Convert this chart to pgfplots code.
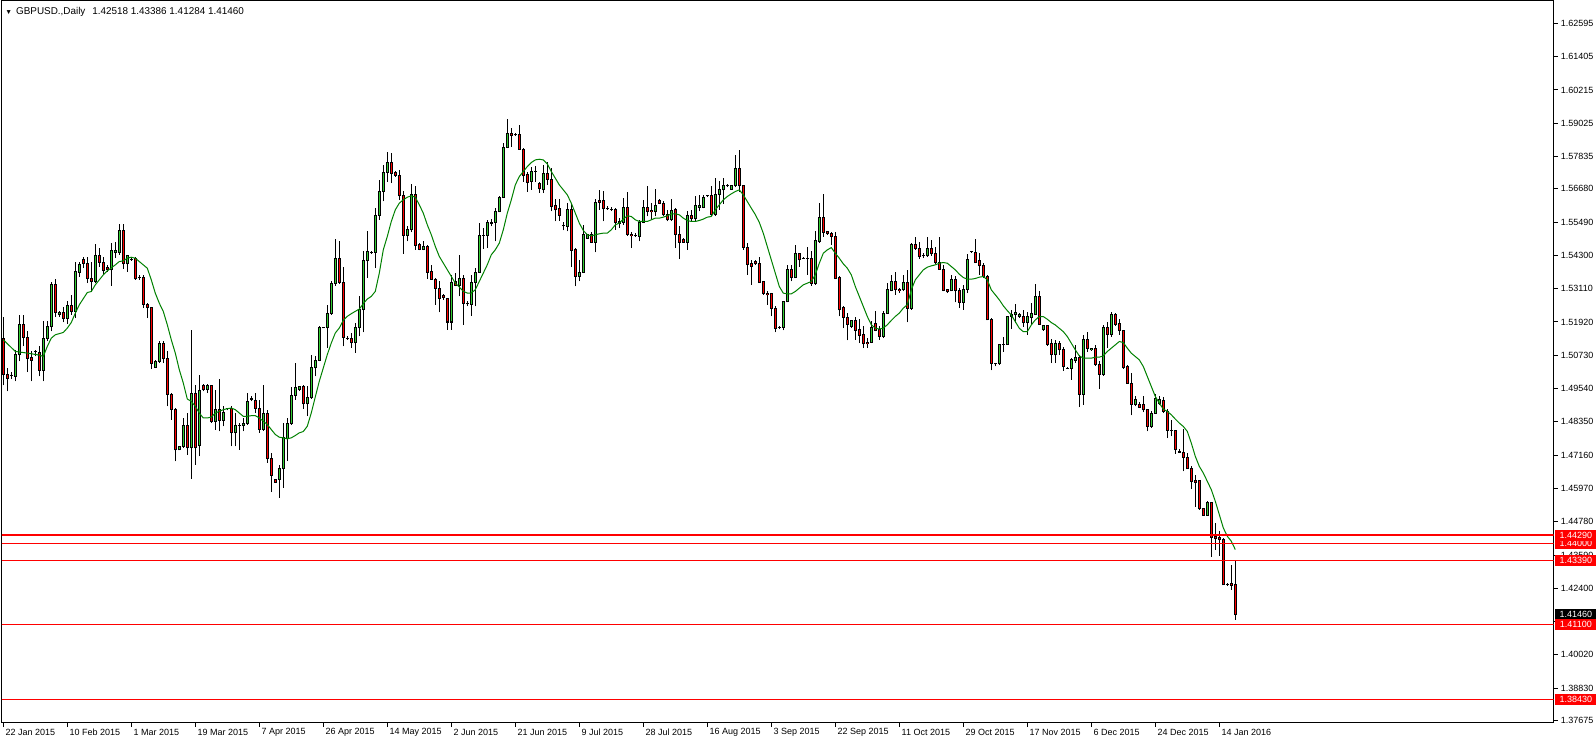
\documentclass[border=0pt]{standalone}
\usepackage{pgfplots}
\usepackage{pgfplotstable}
\pgfplotsset{compat=1.18}
\usepackage{fontspec}
\setmainfont{Liberation Sans}
\definecolor{bull}{RGB}{50,205,50}
\definecolor{bear}{RGB}{255,0,0}
\definecolor{maline}{RGB}{0,128,0}
\newcommand\lbl{\fontsize{4.5}{5}\selectfont}
\pgfplotstableread{
k o h l c
0 1.51344 1.52093 1.49654 1.50035
1 1.50035 1.50273 1.49440 1.49916
2 1.49999 1.50118 1.49880 1.50011
3 1.49975 1.50927 1.49797 1.50749
4 1.50749 1.52177 1.50511 1.51820
5 1.51820 1.52177 1.51046 1.51379
6 1.51379 1.51582 1.50130 1.50630
7 1.50641 1.50868 1.49797 1.50546
8 1.50860 1.50927 1.50689 1.50875
9 1.50832 1.51046 1.49975 1.50189
10 1.50189 1.51939 1.49797 1.51344
11 1.51344 1.51939 1.51225 1.51748
12 1.51748 1.53367 1.51582 1.53248
13 1.53248 1.53462 1.52093 1.52260
14 1.52200 1.52319 1.52093 1.52260
15 1.52272 1.52474 1.51903 1.52058
16 1.52058 1.52653 1.51855 1.52498
17 1.52498 1.52891 1.52177 1.52296
18 1.52296 1.54081 1.52058 1.53712
19 1.53688 1.54081 1.53545 1.53962
20 1.54164 1.54235 1.53843 1.54021
21 1.54021 1.54235 1.53307 1.53474
22 1.53486 1.54081 1.53010 1.53367
23 1.53367 1.54699 1.53307 1.54283
24 1.54283 1.54580 1.53902 1.54057
25 1.54057 1.54259 1.53605 1.53759
26 1.53878 1.53962 1.53724 1.53783
27 1.53783 1.54735 1.53224 1.54461
28 1.54414 1.54795 1.54200 1.54473
29 1.54414 1.55413 1.54319 1.55175
30 1.55175 1.55413 1.53819 1.53997
31 1.53997 1.54283 1.53724 1.54283
32 1.54170 1.54200 1.54104 1.54158
33 1.54176 1.54235 1.53426 1.53462
34 1.53509 1.53605 1.53426 1.53500
35 1.53521 1.53605 1.52415 1.52557
36 1.52557 1.52617 1.52058 1.52438
37 1.52450 1.52450 1.50237 1.50451
38 1.50296 1.50570 1.50273 1.50522
39 1.50522 1.51225 1.50451 1.51141
40 1.51141 1.51225 1.50451 1.50606
41 1.50606 1.50868 1.48904 1.49344
42 1.49344 1.49380 1.48428 1.48809
43 1.48809 1.48845 1.46941 1.47345
44 1.47345 1.47476 1.47333 1.47476
45 1.47476 1.48488 1.47417 1.48214
46 1.48214 1.48666 1.47179 1.47417
47 1.47417 1.51641 1.46310 1.49356
48 1.49356 1.49678 1.46822 1.47417
49 1.47500 1.50035 1.47119 1.49487
50 1.49666 1.49701 1.49440 1.49499
51 1.49499 1.49701 1.49380 1.49654
52 1.49642 1.49642 1.48309 1.48369
53 1.48369 1.49499 1.48071 1.48785
54 1.48785 1.49892 1.48012 1.48404
55 1.48404 1.48904 1.48190 1.48690
56 1.48820 1.48856 1.48761 1.48828
57 1.48845 1.48904 1.47476 1.47952
58 1.47952 1.48666 1.47476 1.48214
59 1.48226 1.48309 1.47357 1.48230
60 1.48214 1.48488 1.48012 1.48285
61 1.48285 1.49380 1.48250 1.49071
62 1.49166 1.49261 1.49083 1.49172
63 1.49130 1.49380 1.48666 1.48845
64 1.48845 1.49147 1.47952 1.48090
65 1.48090 1.49683 1.48017 1.48647
66 1.48647 1.48790 1.46886 1.47029
67 1.47029 1.47243 1.45839 1.46446
68 1.46291 1.46315 1.46172 1.46196
69 1.46291 1.46791 1.45637 1.46672
70 1.46672 1.48314 1.45994 1.47779
71 1.47743 1.48493 1.46946 1.48290
72 1.48290 1.49599 1.48255 1.49290
73 1.49290 1.50456 1.49147 1.49587
74 1.49504 1.49647 1.49445 1.49623
75 1.49599 1.49683 1.48814 1.48992
76 1.48992 1.49647 1.48552 1.49207
77 1.49207 1.50754 1.49171 1.50278
78 1.50278 1.50694 1.49980 1.50551
79 1.50551 1.51789 1.50516 1.51741
80 1.51710 1.51735 1.51690 1.51716
81 1.51706 1.52539 1.50992 1.52241
82 1.52241 1.53372 1.52182 1.53312
83 1.53312 1.54883 1.53217 1.54205
84 1.54205 1.54800 1.53288 1.53336
85 1.53336 1.53883 1.51051 1.51372
86 1.51340 1.51432 1.51289 1.51335
87 1.51313 1.51527 1.50992 1.51170
88 1.51170 1.51884 1.50813 1.51706
89 1.51706 1.52836 1.51408 1.52360
90 1.52360 1.54443 1.51551 1.54109
91 1.54109 1.55157 1.53491 1.54443
92 1.54400 1.54443 1.54359 1.54410
93 1.54407 1.55990 1.53848 1.55740
94 1.55740 1.57001 1.55573 1.56585
95 1.56585 1.57537 1.56228 1.57275
96 1.57275 1.58013 1.56942 1.57632
97 1.57632 1.57977 1.56882 1.57239
98 1.57263 1.57322 1.57120 1.57168
99 1.57168 1.57358 1.56287 1.56430
100 1.56454 1.56620 1.54359 1.55026
101 1.55026 1.55359 1.54800 1.55216
102 1.55216 1.56858 1.55121 1.56489
103 1.56489 1.56787 1.54502 1.54669
104 1.54681 1.54740 1.54478 1.54526
105 1.54526 1.54800 1.54478 1.54621
106 1.54609 1.54681 1.53455 1.53693
107 1.53740 1.53955 1.53431 1.53455
108 1.53455 1.53491 1.52539 1.53110
109 1.53110 1.53372 1.52265 1.52765
110 1.52884 1.52919 1.52717 1.52800
111 1.52777 1.52777 1.51646 1.51920
112 1.51920 1.53610 1.51646 1.53348
113 1.53372 1.53669 1.53193 1.53229
114 1.53229 1.54324 1.52836 1.53491
115 1.53491 1.53610 1.51825 1.52598
116 1.52580 1.52658 1.52479 1.52570
117 1.52562 1.53610 1.52146 1.53348
118 1.53348 1.53848 1.52479 1.53705
119 1.53705 1.55454 1.53669 1.55026
120 1.55020 1.55276 1.54526 1.55030
121 1.55026 1.55549 1.54562 1.55478
122 1.55460 1.55597 1.55335 1.55450
123 1.55478 1.55990 1.54800 1.55859
124 1.55859 1.56430 1.55835 1.56382
125 1.56382 1.58310 1.56347 1.58167
126 1.58167 1.59167 1.58132 1.58667
127 1.58667 1.58846 1.58191 1.58584
128 1.58625 1.58667 1.58572 1.58615
129 1.58608 1.58965 1.58072 1.58096
130 1.58096 1.58132 1.56942 1.57144
131 1.57180 1.57299 1.56585 1.56906
132 1.56942 1.57477 1.56644 1.57299
133 1.57305 1.57501 1.56942 1.57315
134 1.56858 1.56942 1.56549 1.56680
135 1.56644 1.57537 1.56525 1.57215
136 1.57215 1.57632 1.56823 1.57025
137 1.57025 1.57418 1.55871 1.56049
138 1.56073 1.56311 1.55514 1.55930
139 1.55966 1.56311 1.55537 1.55728
140 1.55365 1.55478 1.55192 1.55360
141 1.55335 1.56168 1.55157 1.55930
142 1.55930 1.56168 1.53883 1.54478
143 1.54502 1.54562 1.53193 1.53550
144 1.53550 1.54145 1.53372 1.53705
145 1.53705 1.55395 1.53669 1.55038
146 1.54919 1.55073 1.54883 1.55061
147 1.55061 1.55121 1.54740 1.54776
148 1.54776 1.56311 1.54407 1.56204
149 1.56251 1.56644 1.55930 1.56204
150 1.56251 1.56608 1.55514 1.55966
151 1.55970 1.56073 1.55930 1.55960
152 1.55955 1.56025 1.55871 1.55950
153 1.55930 1.55990 1.55216 1.55490
154 1.55502 1.55633 1.55276 1.55454
155 1.55490 1.56347 1.55395 1.56025
156 1.56025 1.56585 1.55002 1.55061
157 1.55061 1.55121 1.54562 1.55002
158 1.55030 1.55100 1.54950 1.55000
159 1.54978 1.55573 1.54800 1.55490
160 1.55490 1.56287 1.55454 1.56025
161 1.56025 1.56787 1.55692 1.55871
162 1.55906 1.56192 1.55573 1.55859
163 1.55859 1.56668 1.55692 1.56073
164 1.56251 1.56311 1.56132 1.56168
165 1.56168 1.56263 1.55692 1.55752
166 1.55752 1.55930 1.55514 1.55573
167 1.55573 1.56311 1.55514 1.55894
168 1.55930 1.55990 1.54562 1.55061
169 1.55061 1.55359 1.54169 1.54776
170 1.54859 1.54907 1.54764 1.54776
171 1.54776 1.55871 1.54502 1.55740
172 1.55740 1.55930 1.55514 1.55609
173 1.55609 1.56430 1.55514 1.56073
174 1.56025 1.56466 1.55871 1.56073
175 1.56025 1.56466 1.55978 1.56382
176 1.56430 1.56466 1.56382 1.56425
177 1.56430 1.56787 1.55716 1.55752
178 1.55752 1.57061 1.55716 1.56489
179 1.56489 1.56965 1.55930 1.56668
180 1.56644 1.57061 1.56144 1.56787
181 1.56790 1.56858 1.56739 1.56785
182 1.56668 1.56823 1.56644 1.56787
183 1.56787 1.57894 1.56739 1.57418
184 1.57418 1.58072 1.56585 1.56787
185 1.56787 1.56823 1.54502 1.54597
186 1.54597 1.54740 1.53610 1.53967
187 1.53998 1.54141 1.53249 1.53903
188 1.54070 1.54141 1.53951 1.53998
189 1.53998 1.54260 1.53308 1.53332
190 1.53356 1.53368 1.52892 1.52951
191 1.52951 1.53011 1.52535 1.52892
192 1.52927 1.52951 1.52118 1.52416
193 1.52416 1.52475 1.51547 1.51702
194 1.51735 1.51785 1.51666 1.51730
195 1.51737 1.52654 1.51618 1.52642
196 1.52642 1.53963 1.52618 1.53808
197 1.53808 1.53963 1.53368 1.53510
198 1.53510 1.54677 1.53487 1.54355
199 1.54355 1.54403 1.53903 1.54141
200 1.54205 1.54236 1.54165 1.54200
201 1.54190 1.54617 1.53606 1.54185
202 1.54177 1.54474 1.53213 1.53308
203 1.53308 1.55188 1.53249 1.54819
204 1.54796 1.56188 1.54760 1.55664
205 1.55664 1.56497 1.54974 1.55129
206 1.55153 1.55188 1.55034 1.55069
207 1.55069 1.55153 1.54677 1.54974
208 1.54974 1.55153 1.53451 1.53475
209 1.53498 1.53570 1.52118 1.52356
210 1.52439 1.52475 1.51702 1.52082
211 1.52082 1.52237 1.51261 1.51844
212 1.51761 1.51999 1.51702 1.51963
213 1.51963 1.52094 1.51285 1.51618
214 1.51642 1.52023 1.51166 1.51452
215 1.51464 1.51761 1.50988 1.51142
216 1.51202 1.51345 1.50988 1.51142
217 1.51190 1.51940 1.51166 1.51725
218 1.51880 1.52297 1.51583 1.51618
219 1.51642 1.51761 1.51285 1.51404
220 1.51404 1.52297 1.51345 1.52237
221 1.52237 1.53308 1.52213 1.53070
222 1.53046 1.53606 1.53011 1.53379
223 1.53379 1.53725 1.52892 1.53070
224 1.53094 1.53130 1.52951 1.53034
225 1.53070 1.53606 1.53011 1.53344
226 1.53344 1.53784 1.51904 1.52416
227 1.52416 1.54736 1.52356 1.54700
228 1.54700 1.54974 1.54498 1.54558
229 1.54558 1.54796 1.54165 1.54260
230 1.54290 1.54403 1.54200 1.54280
231 1.54284 1.54974 1.54236 1.54534
232 1.54534 1.54855 1.54284 1.54355
233 1.54355 1.54617 1.53998 1.54058
234 1.54058 1.54950 1.53784 1.53808
235 1.53808 1.53963 1.53011 1.53046
236 1.53070 1.53106 1.52951 1.52999
237 1.53034 1.53606 1.53011 1.53427
238 1.53427 1.53570 1.52618 1.53034
239 1.53034 1.53130 1.52416 1.52618
240 1.52618 1.53249 1.52356 1.53094
241 1.53094 1.54355 1.52951 1.54165
242 1.54440 1.54474 1.54403 1.54435
243 1.54415 1.54879 1.54022 1.54046
244 1.54105 1.54403 1.53606 1.53927
245 1.53927 1.54022 1.53487 1.53546
246 1.53546 1.53606 1.51975 1.51999
247 1.52023 1.52059 1.50190 1.50452
248 1.50435 1.50452 1.50333 1.50425
249 1.50428 1.51142 1.50393 1.51107
250 1.51110 1.51400 1.50865 1.51126
251 1.51126 1.52138 1.51103 1.52114
252 1.52114 1.52352 1.51662 1.52197
253 1.52174 1.52554 1.51876 1.52257
254 1.52114 1.52257 1.52055 1.52197
255 1.52114 1.52352 1.51757 1.51900
256 1.51900 1.52293 1.51460 1.52114
257 1.52090 1.52590 1.51817 1.52233
258 1.52197 1.53280 1.52174 1.52828
259 1.52828 1.53042 1.51817 1.51840
260 1.51638 1.51781 1.51614 1.51781
261 1.51781 1.51817 1.51067 1.51126
262 1.51138 1.51305 1.50448 1.50746
263 1.50746 1.51281 1.50448 1.51162
264 1.51162 1.51257 1.50746 1.50924
265 1.50924 1.51019 1.50186 1.50329
266 1.50275 1.50305 1.50234 1.50270
267 1.50270 1.50627 1.49853 1.50567
268 1.50543 1.51103 1.50448 1.50662
269 1.50662 1.50746 1.48877 1.49341
270 1.49341 1.51460 1.48961 1.51281
271 1.51281 1.51579 1.50865 1.50984
272 1.50924 1.51008 1.50900 1.50984
273 1.50984 1.51103 1.50353 1.50412
274 1.50412 1.50508 1.49520 1.50055
275 1.50055 1.51817 1.49996 1.51733
276 1.51733 1.51936 1.50984 1.51483
277 1.51483 1.52293 1.51400 1.52174
278 1.52174 1.52233 1.51781 1.51840
279 1.51876 1.52019 1.51460 1.51614
280 1.51614 1.51638 1.50234 1.50293
281 1.50329 1.50389 1.49710 1.49734
282 1.49734 1.50091 1.48580 1.48984
283 1.48984 1.49282 1.48901 1.49139
284 1.48984 1.49043 1.48830 1.48877
285 1.48984 1.49258 1.48687 1.48782
286 1.48782 1.48806 1.48009 1.48187
287 1.48187 1.48723 1.48127 1.48663
288 1.48663 1.49353 1.48639 1.49199
289 1.48996 1.49258 1.48961 1.49139
290 1.49103 1.49234 1.48663 1.48723
291 1.48723 1.48806 1.47771 1.48044
292 1.48050 1.48401 1.47830 1.48040
293 1.48032 1.48068 1.47211 1.47354
294 1.47294 1.47378 1.47235 1.47259
295 1.47259 1.48092 1.46581 1.47080
296 1.47080 1.47235 1.46664 1.46676
297 1.46676 1.46759 1.45962 1.46224
298 1.46247 1.46462 1.45307 1.46200
299 1.46247 1.46259 1.45212 1.45236
300 1.45236 1.45236 1.44998 1.45010
301 1.45010 1.45510 1.44998 1.45450
302 1.45450 1.45474 1.43522 1.44224
303 1.44260 1.44736 1.43784 1.44165
304 1.44200 1.44439 1.43570 1.44141
305 1.44141 1.44200 1.42511 1.42523
306 1.42540 1.42594 1.42475 1.42530
307 1.42559 1.43249 1.42356 1.42511
308 1.42518 1.43386 1.41284 1.41460
}\ohlc
\pgfplotstableread{
k m
0 1.51284
3 1.50868
6 1.50808
9 1.50737
10 1.50689
11 1.51046
12 1.51344
13 1.51463
15 1.51546
16 1.51701
17 1.51903
18 1.52236
19 1.52534
21 1.52974
22 1.53010
23 1.53248
24 1.53426
25 1.53605
26 1.53747
28 1.53962
29 1.54081
30 1.54104
31 1.54200
32 1.54235
33 1.54200
34 1.54081
35 1.53962
36 1.53843
37 1.53426
38 1.52950
39 1.52593
40 1.52296
41 1.51820
42 1.51284
43 1.50808
44 1.50213
45 1.49737
46 1.49166
47 1.49083
48 1.48904
49 1.48666
50 1.48488
51 1.48488
52 1.48523
53 1.48666
54 1.48725
55 1.48785
56 1.48821
57 1.48845
58 1.48785
59 1.48666
60 1.48547
61 1.48547
62 1.48571
63 1.48571
64 1.48490
66 1.48255
67 1.48076
68 1.47898
69 1.47802
70 1.47779
71 1.47743
72 1.47779
73 1.47862
74 1.47957
75 1.48005
76 1.48195
77 1.48671
78 1.49242
79 1.49802
80 1.50278
81 1.50754
82 1.51170
83 1.51527
84 1.51706
85 1.51979
86 1.52122
87 1.52217
88 1.52301
89 1.52384
90 1.52574
91 1.52741
92 1.52836
93 1.53015
94 1.53669
95 1.54502
96 1.54978
97 1.55514
98 1.55930
99 1.56168
100 1.56287
101 1.56382
102 1.56430
103 1.56382
104 1.56109
105 1.55811
106 1.55395
107 1.55038
108 1.54621
109 1.54264
110 1.54026
111 1.53788
112 1.53550
113 1.53312
114 1.53169
115 1.53015
116 1.52955
117 1.52955
118 1.53074
119 1.53372
120 1.53669
121 1.53967
122 1.54324
123 1.54502
124 1.54740
125 1.55216
126 1.55811
127 1.56287
128 1.56822
129 1.57120
130 1.57299
131 1.57477
132 1.57620
133 1.57715
134 1.57739
135 1.57715
136 1.57572
137 1.57299
138 1.57061
139 1.56822
140 1.56644
141 1.56466
142 1.56168
143 1.55811
144 1.55454
145 1.55192
146 1.55038
147 1.55002
148 1.55038
149 1.55073
150 1.55097
151 1.55097
152 1.55216
153 1.55395
154 1.55454
155 1.55597
156 1.55716
157 1.55692
158 1.55573
159 1.55514
160 1.55514
161 1.55514
162 1.55573
163 1.55633
164 1.55633
165 1.55668
166 1.55716
167 1.55787
168 1.55787
169 1.55752
170 1.55633
171 1.55549
172 1.55514
173 1.55514
174 1.55549
175 1.55597
176 1.55668
177 1.55692
178 1.55930
179 1.56109
180 1.56287
181 1.56406
182 1.56501
183 1.56585
184 1.56644
185 1.56466
186 1.56228
187 1.55990
188 1.55760
189 1.55480
190 1.55092
191 1.54617
192 1.54141
193 1.53665
194 1.53189
195 1.52951
196 1.52927
197 1.52927
198 1.53011
199 1.53130
200 1.53249
201 1.53308
202 1.53368
203 1.53606
204 1.54022
205 1.54379
206 1.54498
207 1.54581
208 1.54379
209 1.54200
210 1.53999
211 1.53844
212 1.53606
213 1.53189
214 1.52832
215 1.52475
216 1.52118
217 1.51820
218 1.51702
219 1.51666
220 1.51702
221 1.51820
222 1.51975
223 1.52118
224 1.52237
225 1.52416
226 1.52535
227 1.53070
228 1.53427
229 1.53606
230 1.53784
231 1.53879
232 1.53927
233 1.53963
234 1.54022
235 1.54046
236 1.54022
237 1.53903
238 1.53784
239 1.53629
240 1.53510
241 1.53451
242 1.53451
243 1.53475
244 1.53522
245 1.53546
246 1.53427
247 1.53070
248 1.52892
249 1.52713
250 1.52499
251 1.52326
252 1.52171
253 1.51933
254 1.51695
255 1.51576
256 1.51576
257 1.51814
258 1.51995
259 1.52114
260 1.52114
261 1.52019
262 1.51900
263 1.51814
264 1.51695
265 1.51576
266 1.51400
267 1.51162
268 1.50924
269 1.50710
270 1.50627
271 1.50627
272 1.50627
273 1.50662
274 1.50662
275 1.50710
276 1.50865
277 1.50984
278 1.51103
279 1.51222
280 1.51186
281 1.50984
282 1.50805
283 1.50686
284 1.50567
285 1.50329
286 1.49972
287 1.49615
288 1.49258
289 1.49020
290 1.48806
291 1.48723
292 1.48604
293 1.48449
294 1.48306
295 1.48187
296 1.48009
297 1.47592
298 1.47116
299 1.46759
300 1.46521
301 1.46224
302 1.45926
303 1.45510
304 1.45034
305 1.44558
306 1.44260
307 1.44082
308 1.43784
}\matable
\begin{document}
\begin{tikzpicture}
\useasboundingbox (0,0) rectangle (798pt,372pt);
\begin{axis}[
  at={(1pt,10.65pt)}, anchor=south west,
  scale only axis, width=775.75pt, height=360.85pt,
  xmin=-0.325, xmax=387.55, ymin=1.37595, ymax=1.63396,
  axis line style={line width=0.5pt, black},
  tick align=outside, major tick length=2pt,
  tick style={black, line width=0.5pt},
  xtick pos=bottom, ytick pos=right, yticklabel pos=right,
  xtick={0,16,...,304},
  xticklabels={22 Jan 2015,10 Feb 2015,1 Mar 2015,19 Mar 2015,7 Apr 2015,26 Apr 2015,14 May 2015,2 Jun 2015,21 Jun 2015,9 Jul 2015,28 Jul 2015,16 Aug 2015,3 Sep 2015,22 Sep 2015,11 Oct 2015,29 Oct 2015,17 Nov 2015,6 Dec 2015,24 Dec 2015,14 Jan 2016},
  ytick={1.62595,1.61405,1.60215,1.59025,1.57835,1.56680,1.55490,1.54300,1.53110,1.51920,1.50730,1.49540,1.48350,1.47160,1.45970,1.44780,1.43590,1.42400,1.41210,1.40020,1.38830,1.37675},
  yticklabels={1.62595,1.61405,1.60215,1.59025,1.57835,1.56680,1.55490,1.54300,1.53110,1.51920,1.50730,1.49540,1.48350,1.47160,1.45970,1.44780,1.43590,1.42400,,1.40020,1.38830,1.37675},
  ticklabel style={font=\lbl, inner sep=0pt},
  xticklabel style={anchor=west, xshift=1pt, yshift=-3pt},
  yticklabel style={anchor=west, xshift=1.5pt},
  clip=true,
]
% wicks
\addplot[draw=none, mark=none, forget plot,
  error bars/.cd, y dir=plus, y explicit, error mark=none,
  error bar style={draw=black, line width=0.5pt}]
  table[x=k, y=l, y error plus expr={\thisrow{h}-\thisrow{l}}] {\ohlc};
% bodies outline
\addplot[draw=none, mark=none, forget plot,
  error bars/.cd, y dir=plus, y explicit, error mark=none,
  error bar style={draw=black, line width=1.5pt}]
  table[x=k, y expr={min(\thisrow{o},\thisrow{c})-0.00018}, y error plus expr={abs(\thisrow{c}-\thisrow{o})+0.00036}] {\ohlc};
% bull fill
\addplot[draw=none, mark=none, forget plot,
  restrict expr to domain={\thisrow{c}-\thisrow{o}}{0.0004:1},
  error bars/.cd, y dir=plus, y explicit, error mark=none,
  error bar style={draw=bull, line width=0.5pt}]
  table[x=k, y expr={\thisrow{o}+0.00018}, y error plus expr={\thisrow{c}-\thisrow{o}-0.00036}] {\ohlc};
% bear fill
\addplot[draw=none, mark=none, forget plot,
  restrict expr to domain={\thisrow{o}-\thisrow{c}}{0.0004:1},
  error bars/.cd, y dir=plus, y explicit, error mark=none,
  error bar style={draw=bear, line width=0.5pt}]
  table[x=k, y expr={\thisrow{c}+0.00018}, y error plus expr={\thisrow{o}-\thisrow{c}-0.00036}] {\ohlc};
% moving average
\addplot[maline, line width=0.5pt, mark=none] table[x=k, y=m] {\matable};
% horizontal levels
\addplot[red, line width=1pt, mark=none] coordinates {(-5,1.44290) (400,1.44290)};
\addplot[red, line width=0.5pt, mark=none] coordinates {(-5,1.44000) (400,1.44000)};
\addplot[red, line width=0.5pt, mark=none] coordinates {(-5,1.43390) (400,1.43390)};
\addplot[red, line width=0.5pt, mark=none] coordinates {(-5,1.41100) (400,1.41100)};
\addplot[red, line width=0.5pt, mark=none] coordinates {(-5,1.38430) (400,1.38430)};
\coordinate (rt) at (rel axis cs:1,1);
\coordinate (tl) at (rel axis cs:0,1);
\coordinate (b1) at (axis cs:0,1.44290);
\coordinate (b2) at (axis cs:0,1.44000);
\coordinate (b3) at (axis cs:0,1.43390);
\coordinate (b4) at (axis cs:0,1.41460);
\coordinate (b5) at (axis cs:0,1.41100);
\coordinate (b6) at (axis cs:0,1.38430);
\end{axis}
\tikzset{pbox/.style={fill=red, text=white, font=\lbl, inner sep=0pt, minimum height=5.5pt, minimum width=20.5pt, anchor=west, xshift=0.75pt}}
\node[pbox] at (rt |- b2) {1.44000};
\node[pbox] at (rt |- b1) {1.44290};
\node[pbox] at (rt |- b3) {1.43390};
\node[pbox, fill=black] at (rt |- b4) {1.41460};
\node[pbox] at (rt |- b5) {1.41100};
\node[pbox] at (rt |- b6) {1.38430};
\node[anchor=west, inner sep=0pt, font=\fontsize{4.95}{5.5}\selectfont, xshift=1.5pt, yshift=-5.3pt] at (tl) {{\fontsize{3.4}{4}\selectfont ▼}\hspace{2pt}GBPUSD.,Daily\hspace{3.5pt}1.42518 1.43386 1.41284 1.41460};
\end{tikzpicture}
\end{document}
